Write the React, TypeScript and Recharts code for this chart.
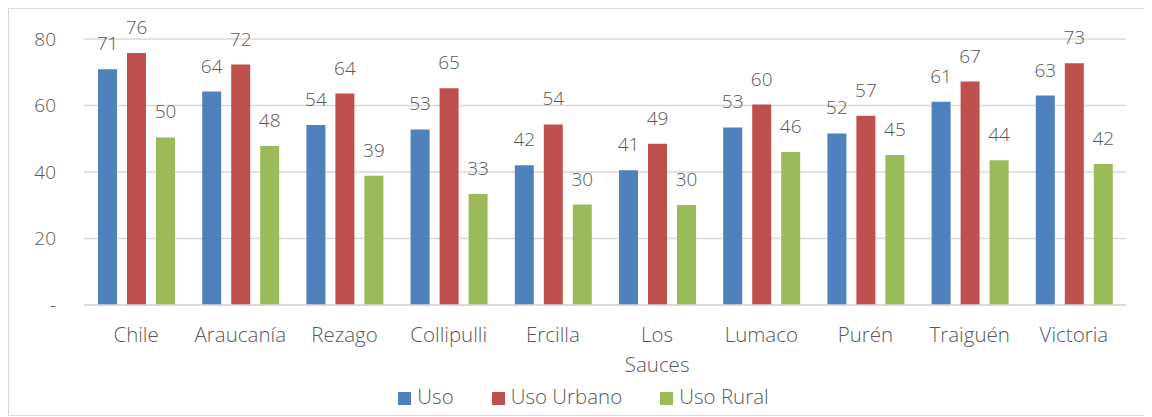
import { BarChart, Bar, XAxis, YAxis, CartesianGrid, Legend, LabelList } from 'recharts';

const comunas = ['Chile', 'Araucanía', 'Rezago', 'Collipulli', 'Ercilla', 'Los Sauces', 'Lumaco', 'Purén', 'Traiguén', 'Victoria'];
const uso = [70.9, 64.2, 54.1, 52.8, 42.0, 40.5, 53.4, 51.6, 61.1, 63.0];
const usoUrbano = [75.8, 72.3, 63.6, 65.2, 54.3, 48.5, 60.3, 56.9, 67.2, 72.7];
const usoRural = [50.4, 47.8, 38.9, 33.4, 30.2, 30.1, 46.0, 45.1, 43.5, 42.4];
const yTicks = [0, 20, 40, 60, 80];

const FONT = '"Open Sans", sans-serif';
const TEXT = '#595959';
const NUM = 19;
const TXT = 20.5;

const data = comunas.map((name, i) => ({
  name,
  uso: uso[i],
  urbano: usoUrbano[i],
  rural: usoRural[i],
}));

const CategoryTick = ({ x, y, payload }: any) => {
  const lines = String(payload.value).split(' ');
  return (
    <text x={x} y={y} textAnchor="middle" fill={TEXT} fontSize={TXT} fontWeight={300} fontFamily={FONT}>
      {lines.map((l, i) => (
        <tspan key={l} x={x} dy={i === 0 ? 29 : 30}>{l}</tspan>
      ))}
    </text>
  );
};

const fmt = (v: any) => Math.round(Number(v));

export default function App() {
  return (
    <div style={{ width: 1142, height: 406, border: '1px solid #d9d9d9', background: '#fff' }}>
      <BarChart
        width={1142}
        height={406}
        data={data}
        margin={{ top: 30, right: 25, left: 20, bottom: 5 }}
        barSize={19}
        barGap={10}
      >
        <CartesianGrid vertical={false} stroke="#d9d9d9" strokeWidth={1.5} />
        <XAxis
          dataKey="name"
          axisLine={{ stroke: '#d9d9d9', strokeWidth: 1.5 }}
          tickLine={false}
          height={77}
          interval={0}
          tick={<CategoryTick />}
        />
        <YAxis
          width={55}
          domain={[0, 80]}
          ticks={yTicks}
          axisLine={false}
          tickLine={false}
          tickMargin={22}
          tickFormatter={(v: number) => (v === 0 ? '-' : String(v))}
          tick={{ fill: TEXT, fontSize: NUM, fontWeight: 300, fontFamily: FONT }}
        />
        <Legend
          verticalAlign="bottom"
          align="center"
          iconType="square"
          iconSize={13}
          itemSorter={null}
          wrapperStyle={{ fontFamily: FONT, fontSize: TXT, fontWeight: 300, color: TEXT, paddingLeft: 25 }}
          formatter={(value: string) => <span style={{ color: TEXT, marginLeft: 2, marginRight: 28 }}>{value}</span>}
        />
        <Bar dataKey="uso" name="Uso" fill="#4f81bd" isAnimationActive={false}>
          <LabelList dataKey="uso" position="top" offset={19} formatter={fmt} fill={TEXT} fontSize={NUM} fontWeight={300} fontFamily={FONT} />
        </Bar>
        <Bar dataKey="urbano" name="Uso Urbano" fill="#c0504d" isAnimationActive={false}>
          <LabelList dataKey="urbano" position="top" offset={19} formatter={fmt} fill={TEXT} fontSize={NUM} fontWeight={300} fontFamily={FONT} />
        </Bar>
        <Bar dataKey="rural" name="Uso Rural" fill="#9bbb59" isAnimationActive={false}>
          <LabelList dataKey="rural" position="top" offset={19} formatter={fmt} fill={TEXT} fontSize={NUM} fontWeight={300} fontFamily={FONT} />
        </Bar>
      </BarChart>
    </div>
  );
}
